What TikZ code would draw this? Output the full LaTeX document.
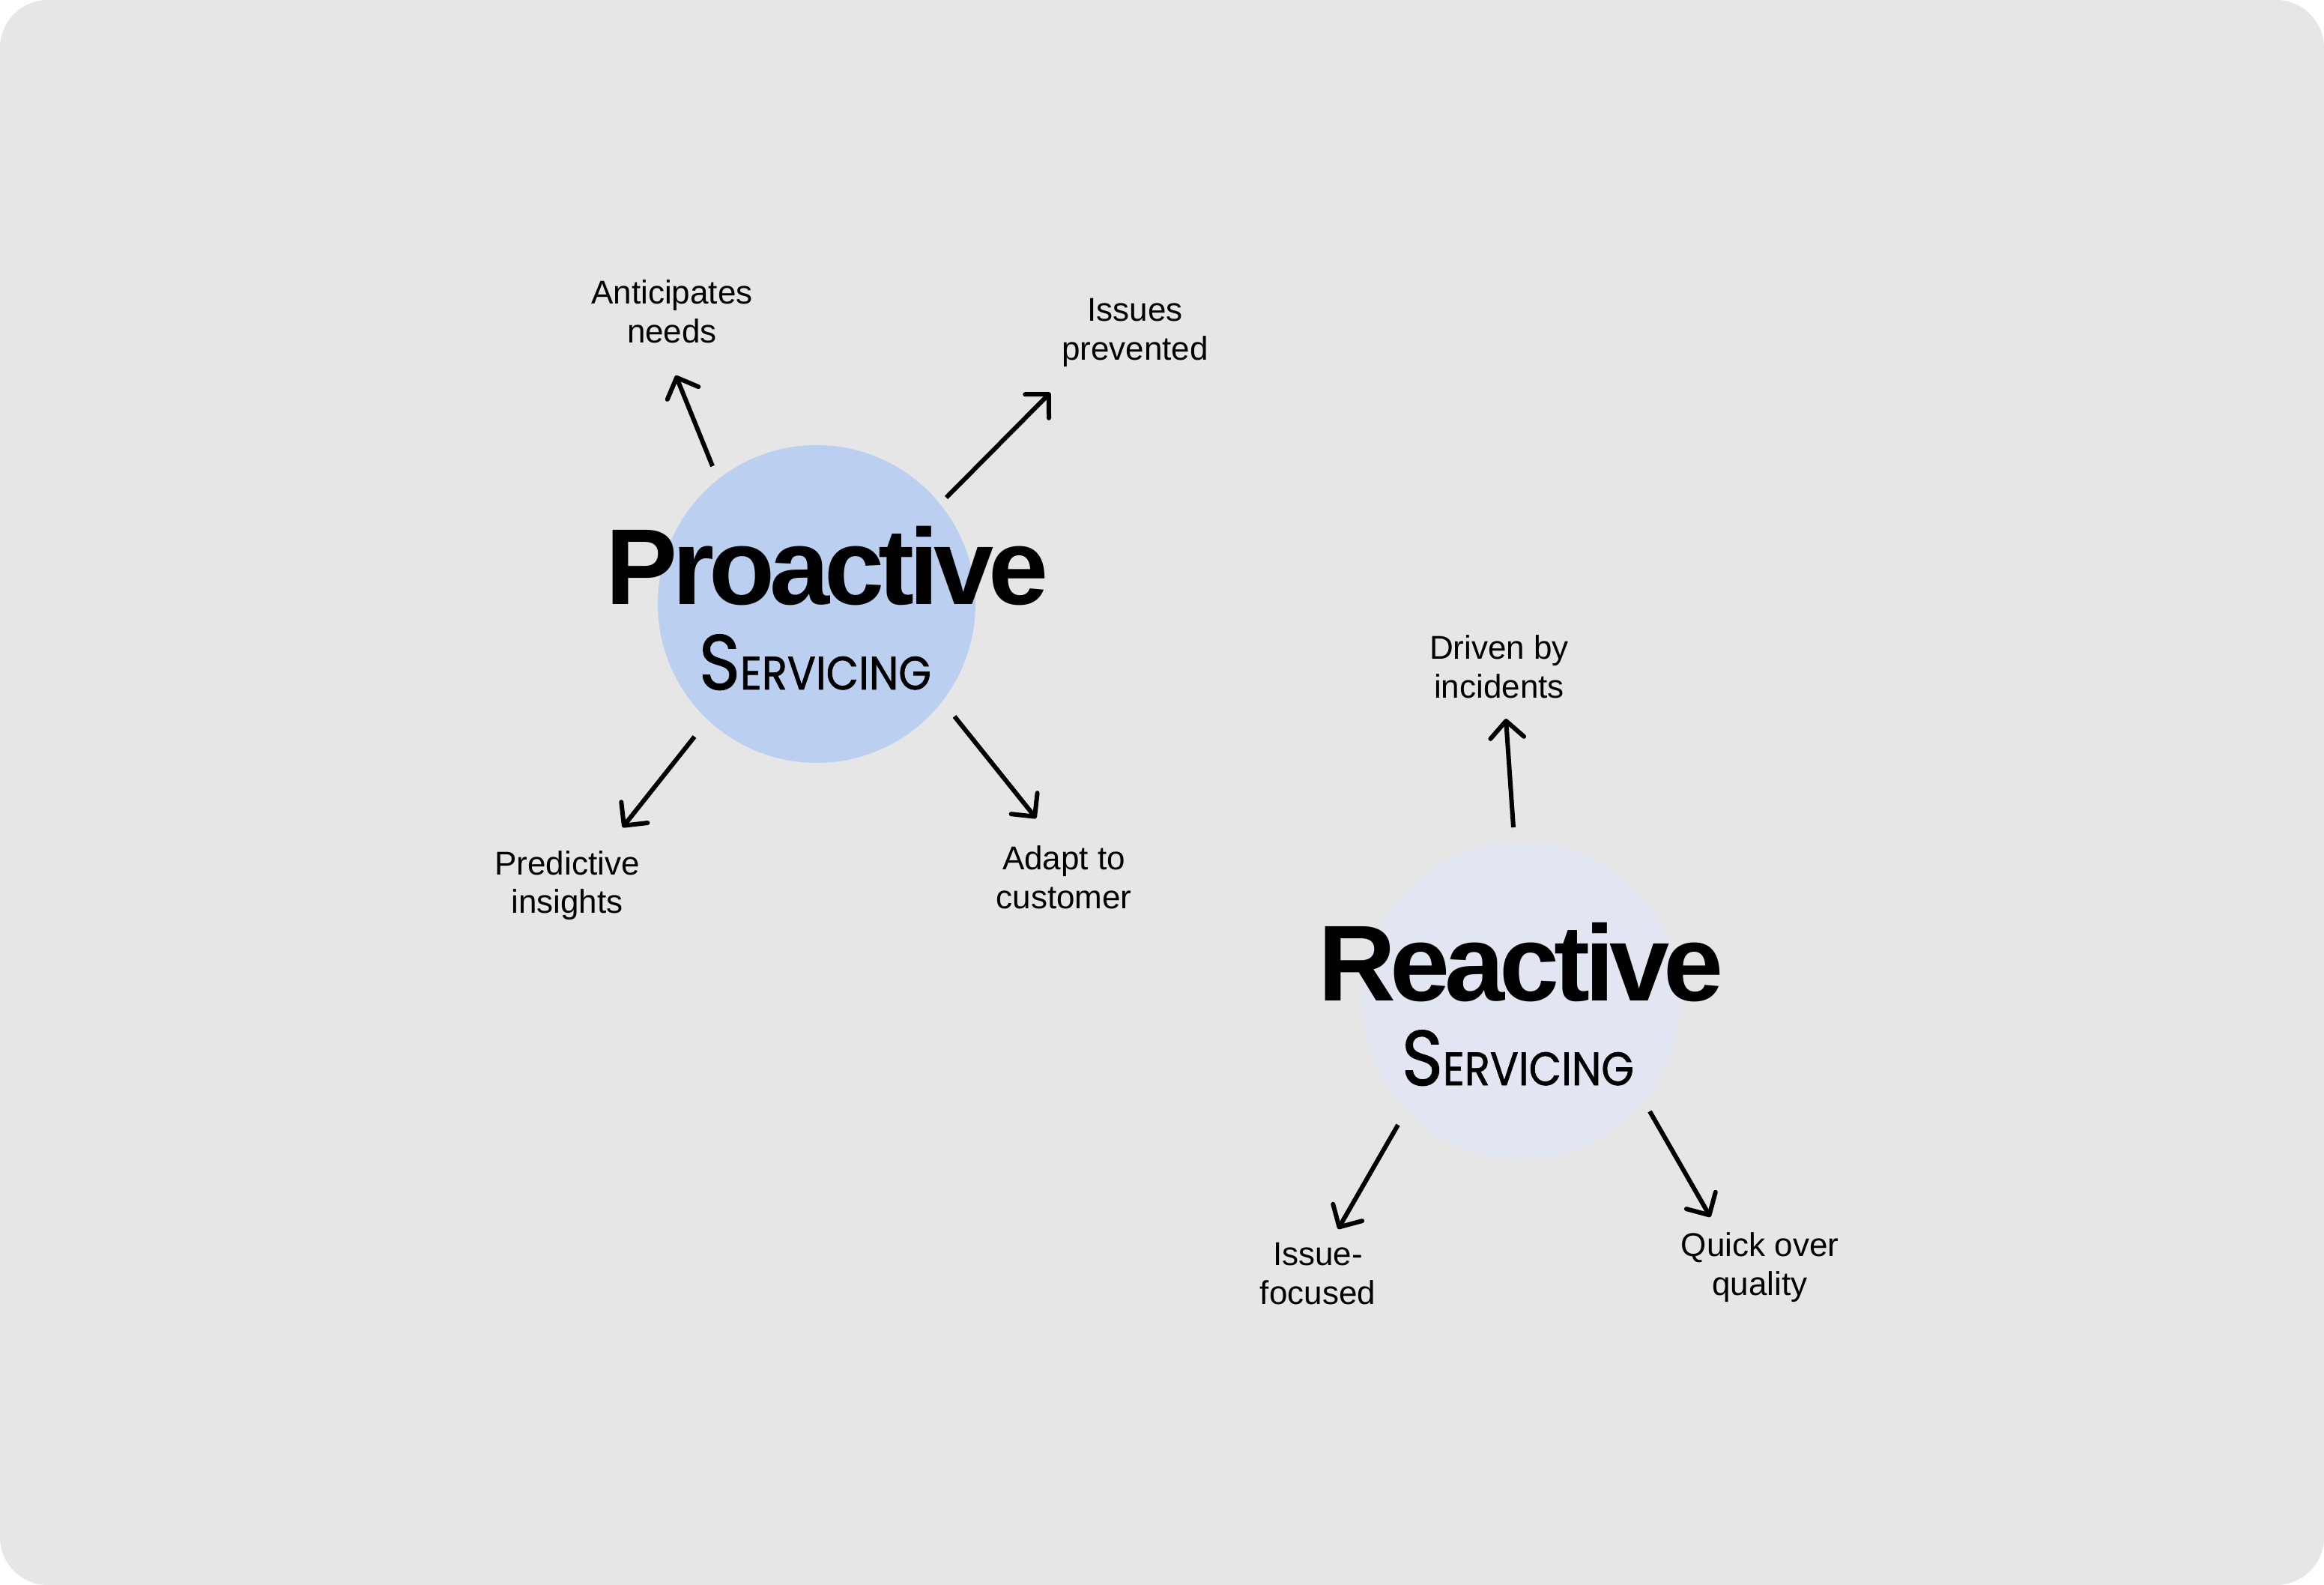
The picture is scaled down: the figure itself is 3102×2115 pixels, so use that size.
\documentclass[tikz,border=0pt]{standalone}
\usepackage{graphicx}
\usepackage{fontspec}
\setmainfont{Liberation Sans}
\newfontfamily\titlefont[LetterSpace=-5]{Liberation Sans}
\newfontfamily\handfont[FakeBold=1.2]{Poppins}
\usetikzlibrary{arrows.meta}
\definecolor{bg}{HTML}{E6E6E6}
\definecolor{proc}{HTML}{BBCFF1}
\definecolor{reac}{HTML}{E2E6F2}
\newcommand{\servtext}{\scalebox{0.9}[1]{{\fontsize{26}{30}\selectfont S}{\fontsize{15.6}{18}\selectfont ERVICING}}}
\begin{document}
\begin{tikzpicture}[x=0.25pt,y=-0.25pt,
  lbl/.style={font=\fontsize{11}{13}\selectfont, align=center, inner sep=0pt, anchor=base, text=black},
  arr/.style={line width=1.5pt, -{Straight Barb[length=5.6pt,width=11.2pt,line cap=round,line join=round]}},
  blob/.style={circle, minimum size=106pt, inner sep=0pt},
  ttl/.style={font=\titlefont\bfseries\fontsize{36}{40}\selectfont, anchor=base, inner sep=0pt},
  serv/.style={font=\handfont, anchor=base, inner sep=0pt}]
\useasboundingbox (0,0) rectangle (3102,2115);
\fill[white] (0,0) rectangle (3102,2115);
\fill[bg, rounded corners=16pt] (0,0) rectangle (3102,2115);

% Proactive
\node[blob, fill=proc] (pc) at (1090,806) {};
\node[ttl] (pt) at (1104,807) {Proactive};
\node[serv] (ps) at (1088,920) {\servtext};

% Reactive
\node[blob, fill=reac] (rc) at (2030,1335) {};
\node[ttl] (rt) at (2030,1335) {Reactive};
\node[serv] (rs) at (2026,1448) {\servtext};

% labels (anchor = baseline of the last line)
\node[lbl] (l1) at (897,458) {Anticipates\\needs};
\node[lbl] (l2) at (1515,481) {Issues\\prevented};
\node[lbl] (l3) at (757,1219) {Predictive\\insights};
\node[lbl] (l4) at (1420,1212) {Adapt to\\customer};
\node[lbl] (l5) at (2001,932) {Driven by\\incidents};
\node[lbl] (l6) at (1759,1740) {Issue-\\focused};
\node[lbl] (l7) at (2349,1728) {Quick over\\quality};

% arrow end points
\coordinate (a1s) at (951,622);  \coordinate (a1e) at (902,501);
\coordinate (a2s) at (1263,664); \coordinate (a2e) at (1402,524);
\coordinate (a3s) at (927,983);  \coordinate (a3e) at (831,1104);
\coordinate (a4s) at (1274,956); \coordinate (a4e) at (1383,1092);
\coordinate (a5s) at (2020,1104); \coordinate (a5e) at (2010,959);
\coordinate (a6s) at (1866,1501); \coordinate (a6e) at (1786,1640);
\coordinate (a7s) at (2202,1483); \coordinate (a7e) at (2283,1624);

\draw[arr] (a1s) -- (a1e);
\draw[arr] (a2s) -- (a2e);
\draw[arr] (a3s) -- (a3e);
\draw[arr] (a4s) -- (a4e);
\draw[arr] (a5s) -- (a5e);
\draw[arr] (a6s) -- (a6e);
\draw[arr] (a7s) -- (a7e);
\end{tikzpicture}
\end{document}
